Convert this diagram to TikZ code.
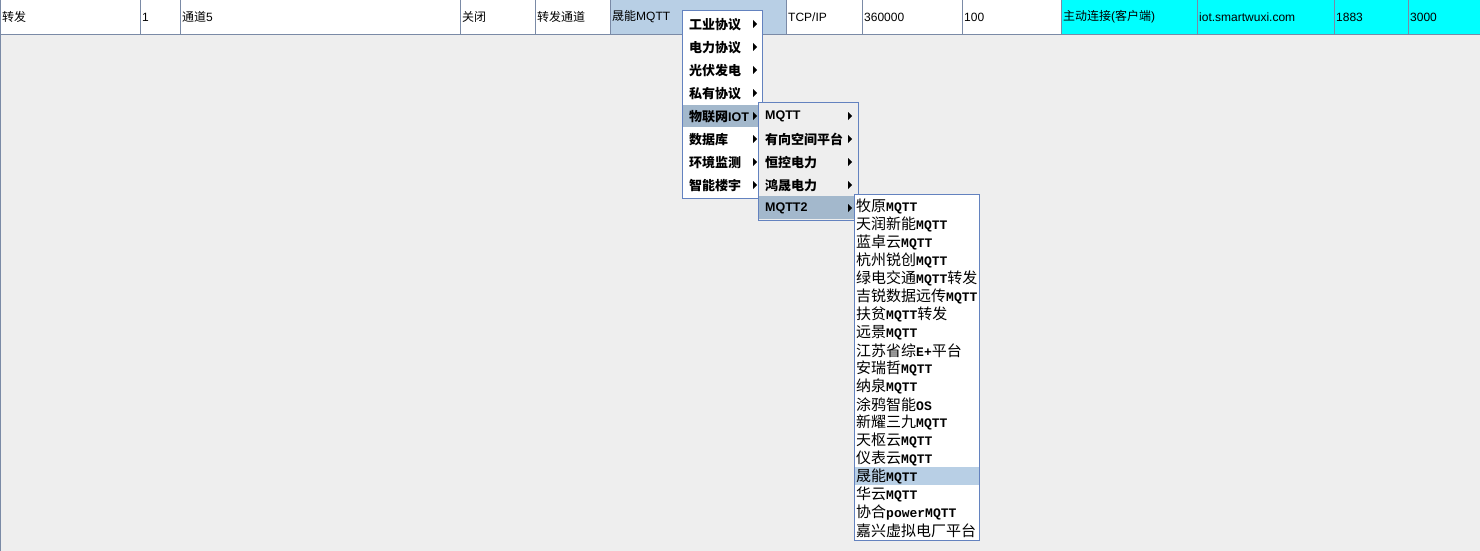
\documentclass[tikz,border=0pt]{standalone}
\usepackage{fontspec}
\setmainfont{Noto Sans CJK SC}
\setmonofont{Liberation Mono}
\newfontfamily\latin{Liberation Sans}
\definecolor{bgray}{RGB}{238,238,238}
\definecolor{gridline}{RGB}{122,138,166}
\definecolor{menuline}{RGB}{99,130,191}
\definecolor{selblue}{RGB}{184,207,229}
\definecolor{hlblue}{RGB}{163,184,204}
\definecolor{rowcyan}{RGB}{0,255,255}
\newcommand\mq[1]{{\ttfamily\bfseries\fontsize{13}{13}\selectfont #1}}
\newcommand\ml[1]{{\latin\bfseries\fontsize{12.5}{12.5}\selectfont #1}}

\begin{document}
\begin{tikzpicture}[x=1pt,y=-1pt,
  cell/.style={anchor=west,inner sep=0pt,font=\fontsize{12}{12}\selectfont},
  item/.style={anchor=west,inner sep=0pt,font=\fontsize{13}{13}\selectfont\bfseries},
  sub/.style={anchor=west,inner sep=0pt,font=\fontsize{15}{15}\selectfont},
  grid/.style={draw=gridline,line width=1pt},
  menu/.style={draw=menuline,line width=1pt}]
\useasboundingbox (0,0) rectangle (1480,551);
\fill[bgray] (0,0) rectangle (1480,551);
% table row
\fill[white] (0,0) rectangle (1480,34);
\fill[selblue] (610,0) rectangle (786,34);
\fill[rowcyan] (1061,0) rectangle (1480,34);
\foreach \x in {140,180,460,535,610,786,862,962,1061,1197,1334,1408}
  \draw[grid] (\x+0.5,0) -- (\x+0.5,34);
\draw[grid] (0.5,0) -- (0.5,551);
\draw[grid] (0,34.5) -- (1480,34.5);
\node[cell] (mode) at (2,17) {转发};
\node[cell] (no) at (142,17) {{\latin 1}};
\node[cell] (chan) at (182,17) {通道{\latin 5}};
\node[cell] (state) at (462,17) {关闭};
\node[cell] (kind) at (537,17) {转发通道};
\node[cell] (proto) at (612,17) {晟能{\latin MQTT}};
\node[cell] (link) at (788,17) {{\latin TCP/IP}};
\node[cell] (period) at (864,17) {{\latin 360000}};
\node[cell] (wait) at (964,17) {{\latin 100}};
\node[cell] (conn) at (1063,17) {主动连接{\latin (}客户端{\latin )}};
\node[cell] (host) at (1199,17) {{\latin iot.smartwuxi.com}};
\node[cell] (port) at (1336,17) {{\latin 1883}};
\node[cell] (tmo) at (1410,17) {{\latin 3000}};
% first menu
\filldraw[menu,fill=white] (682.5,10.5) rectangle (762.5,198.5);
\fill[hlblue] (683,105) rectangle (762,127);
\foreach \t [count=\i] in {工业协议,电力协议,光伏发电,私有协议,物联网\ml{IOT},数据库,环境监测,智能楼宇}{
  \node[item] (top\i) at (689,{1.5+23*\i}) {\t};
  \fill (753,{23*\i-3}) -- ++(4,4) -- ++(-4,4) -- cycle;
}
% second menu
\filldraw[menu,fill=bgray] (758.5,102.5) rectangle (858.5,220.5);
\fill[hlblue] (759,196) rectangle (858,219);
\foreach \t [count=\i] in {\ml{MQTT},有向空间平台,恒控电力,鸿晟电力,\ml{MQTT2}}{
  \node[item] (iot\i) at (765,{93.5+23*\i}) {\t};
  \fill (848,{23*\i+89}) -- ++(4,4) -- ++(-4,4) -- cycle;
}
% third menu
\filldraw[menu,fill=white] (854.5,194.5) rectangle (979.5,540.5);
\fill[selblue] (855,467) rectangle (979,485);
\foreach \t [count=\i] in {牧原\mq{MQTT},天润新能\mq{MQTT},蓝卓云\mq{MQTT},杭州锐创\mq{MQTT},
    绿电交通\mq{MQTT}转发,吉锐数据远传\mq{MQTT},扶贫\mq{MQTT}转发,远景\mq{MQTT},
    江苏省综\mq{E+}平台,安瑞哲\mq{MQTT},纳泉\mq{MQTT},涂鸦智能\mq{OS},新耀三九\mq{MQTT},
    天枢云\mq{MQTT},仪表云\mq{MQTT},晟能\mq{MQTT},华云\mq{MQTT},协合\mq{powerMQTT},嘉兴虚拟电厂平台}
  \node[sub] (mq\i) at (856,{188.5+18*\i}) {\t};
\end{tikzpicture}
\end{document}
